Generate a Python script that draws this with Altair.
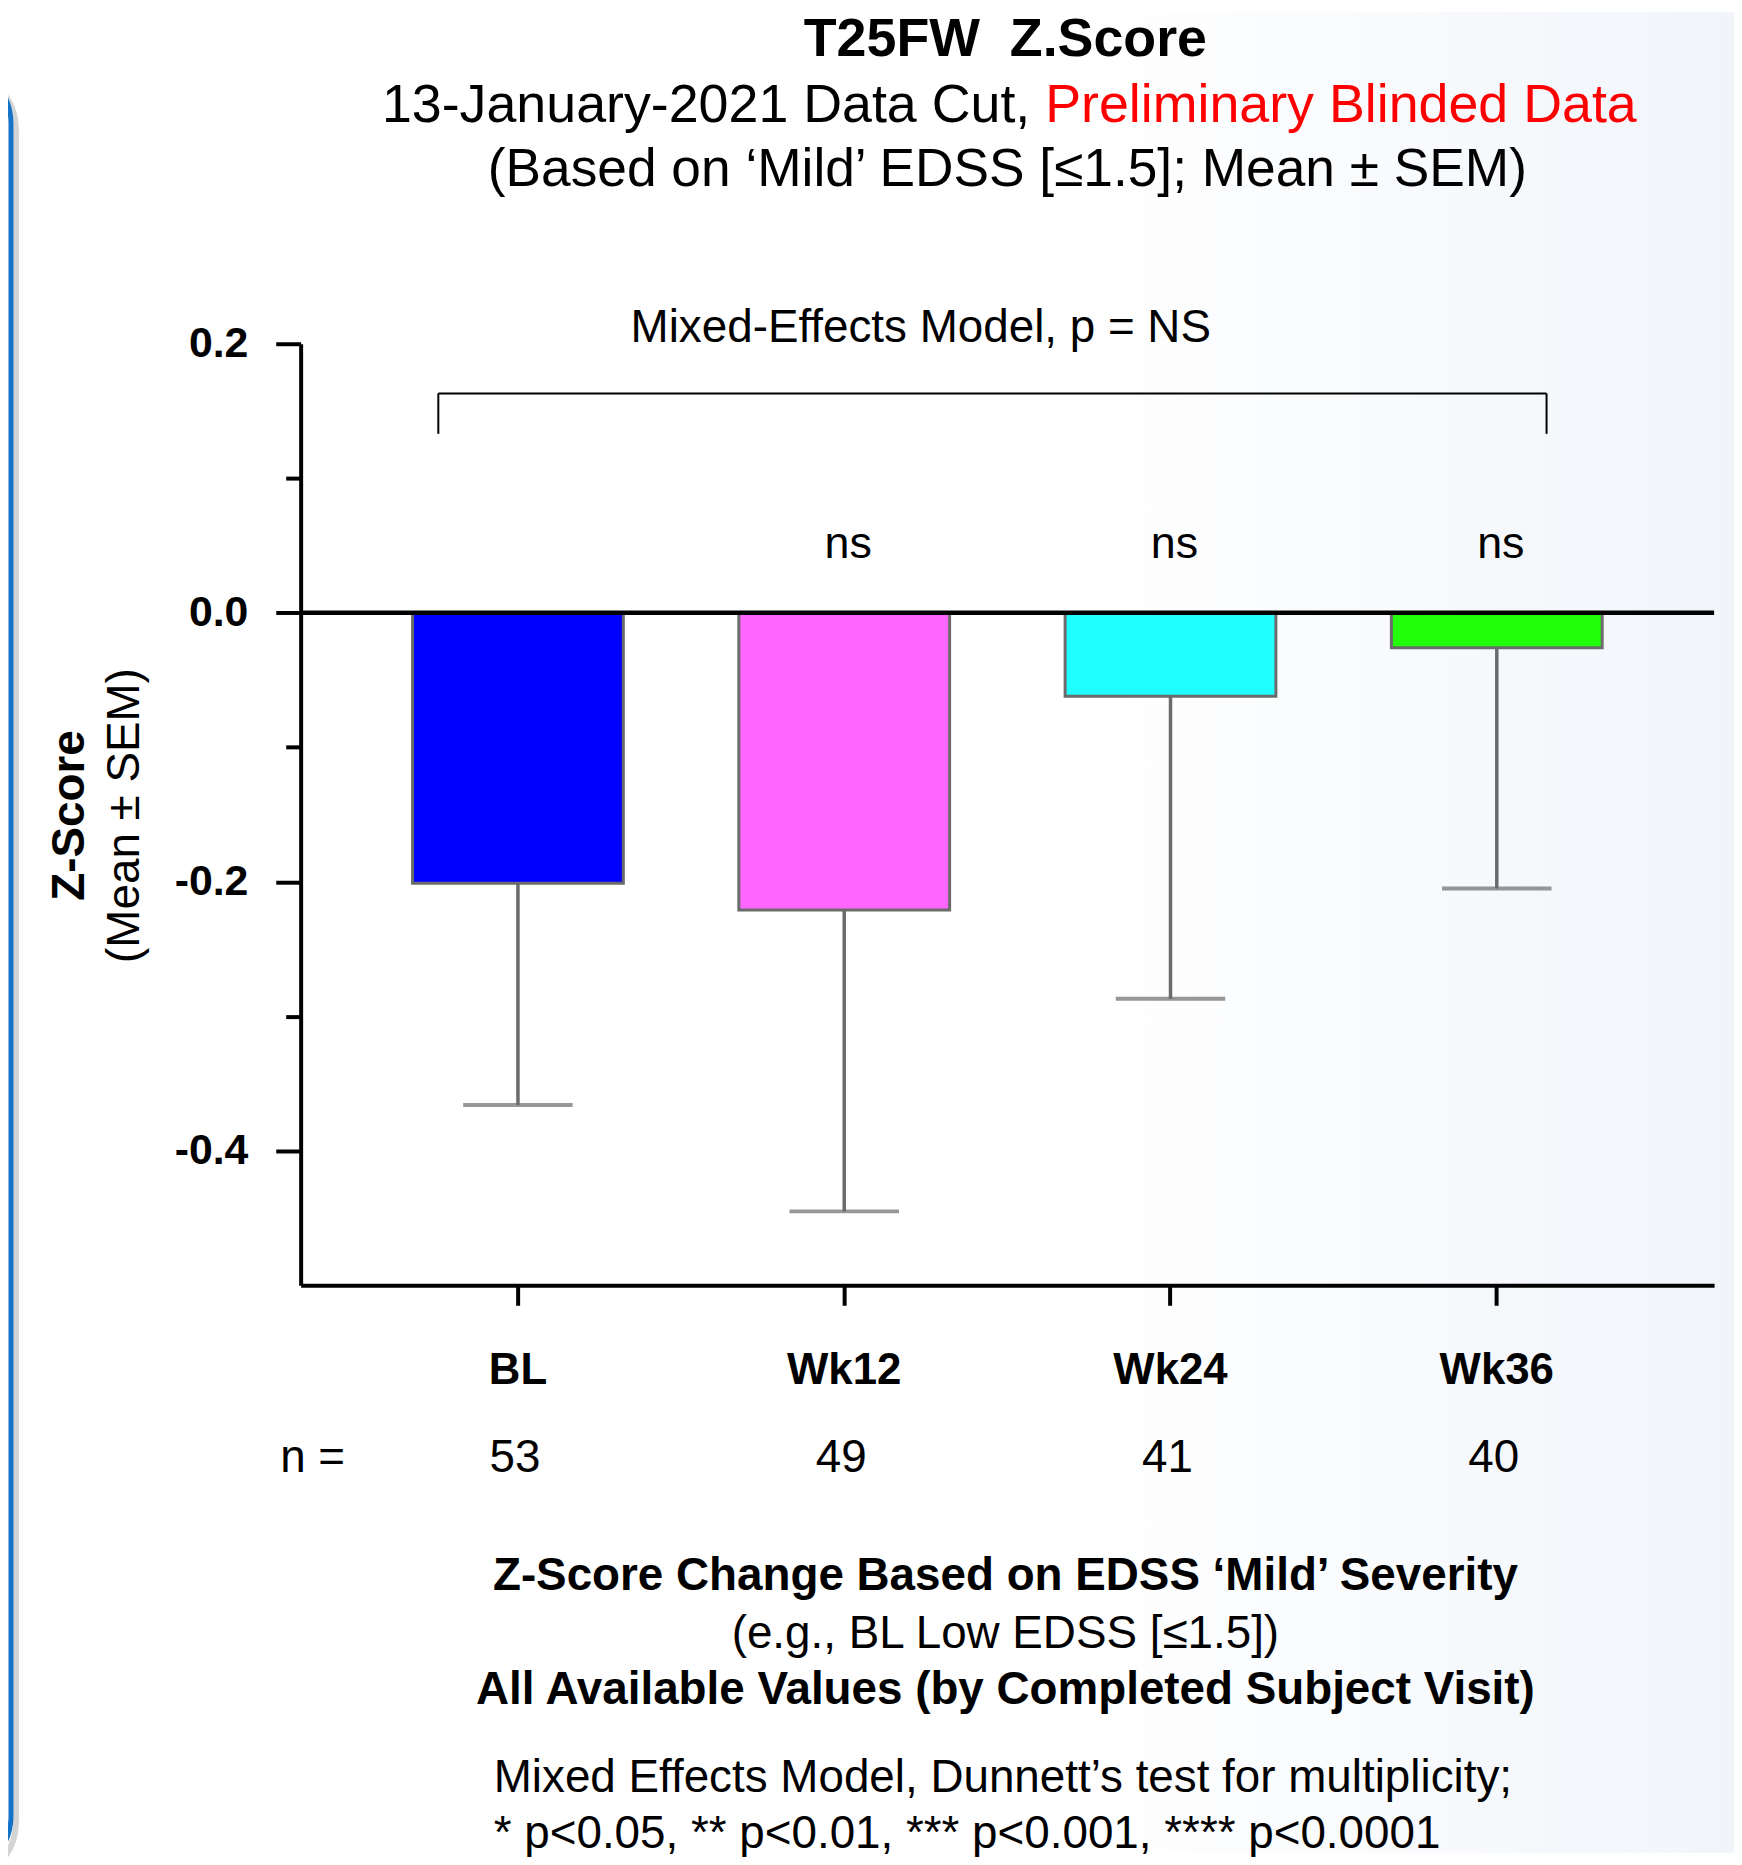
import altair as alt
import pandas as pd

# ---------------- data ----------------
categories = ["BL", "Wk12", "Wk24", "Wk36"]
means = [-0.201, -0.221, -0.062, -0.026]
err_low = [-0.366, -0.445, -0.287, -0.205]
n_values = ["53", "49", "41", "40"]
sig_labels = ["", "ns", "ns", "ns"]
bar_colors = ["#0000FF", "#FF66FF", "#1FFFFF", "#22FF0A"]
y_tick_values = [0.2, 0.1, 0.0, -0.1, -0.2, -0.3, -0.4]
y_domain = [-0.5, 0.2]
ns_level = 0.051
bracket_level = 0.163
bracket_leg_end = 0.133
bracket_ends = ["BL", "Wk36"]

title_line1 = ["T25FW\u00a0\u00a0Z.Score"]
title_line2_black = ["13-January-2021 Data Cut,"]
title_line2_red = ["Preliminary Blinded Data"]
title_line3 = ["(Based on \u2018Mild\u2019 EDSS [\u22641.5]; Mean \u00b1 SEM)"]
model_note = ["Mixed-Effects Model, p = NS"]
y_title_bold = ["Z-Score"]
y_title_regular = ["(Mean \u00b1 SEM)"]
n_prefix = ["n ="]
footer_bold1 = ["Z-Score Change Based on EDSS \u2018Mild\u2019 Severity"]
footer_regular1 = ["(e.g., BL Low EDSS [\u22641.5])"]
footer_bold2 = ["All Available Values (by Completed Subject Visit)"]
footnote_lines = ["Mixed Effects Model, Dunnett\u2019s test for multiplicity;",
                  "* p<0.05, ** p<0.01, *** p<0.001, **** p<0.0001"]

# ---------------- layout ----------------
W, H = 1420, 946
PL, PT, PR, PB = 294, 333, 20, 570
FONT = "Liberation Sans"
GRAY = "#6b6b6b"

df = pd.DataFrame({"cat": categories, "mean": means, "low": err_low,
                   "n": n_values, "sig": sig_labels})

xscale = alt.Scale(domain=categories, paddingInner=0.354, paddingOuter=0.343)
yscale = alt.Scale(domain=y_domain, nice=False, zero=False)

x_enc = alt.X("cat:N", scale=xscale, sort=categories,
              axis=alt.Axis(title=None, labelAngle=0, labelFont=FONT, labelFontSize=44,
                            labelFontWeight="bold", labelColor="black",
                            labelBaseline="middle", labelPadding=66,
                            tickSize=20, tickWidth=4, tickColor="black",
                            domainColor="black", domainWidth=4, grid=False, zindex=1))
y_axis = alt.Axis(title=None, values=y_tick_values, grid=False, zindex=1,
                  labelExpr="abs(round(datum.value*10)) % 2 == 0 ? (datum.value < -0.001 ? '-' : '') + format(abs(datum.value), '.1f') : ''",
                  labelFont=FONT, labelFontSize=43, labelFontWeight="bold", labelColor="black",
                  labelPadding=28,
                  tickSize={"condition": {"test": "abs(round(datum.value*10)) % 2 == 0", "value": 25}, "value": 15},
                  tickWidth=4, tickColor="black", domainColor="black", domainWidth=4)
y_enc = alt.Y("mean:Q", scale=yscale, axis=y_axis)

base = alt.Chart(df)


def text_layer(values, x, y, size, weight="normal", color="black", align="center", angle=0):
    d = pd.DataFrame({"t": values})
    return alt.Chart(d).mark_text(font=FONT, fontSize=size, fontWeight=weight, color=color,
                                  align=align, baseline="middle", angle=angle).encode(
        text="t:N", x=alt.value(x), y=alt.value(y))


background = alt.Chart(pd.DataFrame({"a": [0]})).mark_rect(
    fill={"gradient": "linear", "x1": 0, "x2": 1, "y1": 0, "y2": 0,
          "stops": [{"offset": 0, "color": "#ffffff"},
                    {"offset": 0.62, "color": "#ffffff"},
                    {"offset": 1, "color": "#f1f5fa"}]}
).encode(x=alt.value(-PL), x2=alt.value(W + PR), y=alt.value(-PT), y2=alt.value(H + PB))

frame_shadow = alt.Chart(pd.DataFrame({"a": [0]})).mark_rect(
    fill=None, stroke="#d4d4d4", strokeWidth=6, cornerRadius=60
).encode(x=alt.value(-PL - 200), x2=alt.value(-PL + 8), y=alt.value(-275), y2=alt.value(1545))
frame = alt.Chart(pd.DataFrame({"a": [0]})).mark_rect(
    fill=None, stroke="#1473c6", strokeWidth=5, cornerRadius=60
).encode(x=alt.value(-PL - 200), x2=alt.value(-PL + 3), y=alt.value(-281), y2=alt.value(1539))

bars = base.mark_bar(stroke=GRAY, strokeWidth=3).encode(
    x=x_enc, y=y_enc,
    color=alt.Color("cat:N", scale=alt.Scale(domain=categories, range=bar_colors), legend=None))

err_rule = base.mark_rule(color=GRAY, strokeWidth=3.5).encode(
    x=alt.X("cat:N", scale=xscale, sort=categories), y=alt.Y("mean:Q", scale=yscale), y2="low:Q")
err_cap = base.mark_tick(color=GRAY, thickness=4, size=110).encode(
    x=alt.X("cat:N", scale=xscale, sort=categories), y=alt.Y("low:Q", scale=yscale))

zero_line = alt.Chart(pd.DataFrame({"z": [0.0]})).mark_rule(color="black", strokeWidth=4.5).encode(
    y=alt.Y("z:Q", scale=yscale))

ns_text = base.mark_text(font=FONT, fontSize=45, color="black", baseline="middle", dx=4).encode(
    x=alt.X("cat:N", scale=xscale, sort=categories), y=alt.datum(ns_level), text="sig:N")

bracket_h = alt.Chart(pd.DataFrame({"a": [0]})).mark_rule(
    color="black", strokeWidth=2, xOffset=-80, x2Offset=50).encode(
    x=alt.datum(bracket_ends[0], scale=xscale), x2=alt.datum(bracket_ends[1]),
    y=alt.datum(bracket_level))
bracket_l = alt.Chart(pd.DataFrame({"a": [0]})).mark_rule(
    color="black", strokeWidth=2, xOffset=-80).encode(
    x=alt.datum(bracket_ends[0]), y=alt.datum(bracket_level), y2=alt.datum(bracket_leg_end))
bracket_r = alt.Chart(pd.DataFrame({"a": [0]})).mark_rule(
    color="black", strokeWidth=2, xOffset=50).encode(
    x=alt.datum(bracket_ends[1]), y=alt.datum(bracket_level), y2=alt.datum(bracket_leg_end))

n_text = base.mark_text(font=FONT, fontSize=46, color="black", baseline="middle", dx=-3).encode(
    x=alt.X("cat:N", scale=xscale, sort=categories), y=alt.value(1119), text="n:N")

texts = [
    text_layer(title_line1, 708, -305, 54, "bold"),
    text_layer(title_line2_black, 733, -239, 54, align="right"),
    text_layer(title_line2_red, 748, -239, 54, color="#ff0000", align="left"),
    text_layer(title_line3, 710, -174, 53.5),
    text_layer(model_note, 623, -16, 46),
    text_layer(y_title_bold, -232, 474, 46, "bold", angle=270),
    text_layer(y_title_regular, -176, 474, 46, angle=270),
    text_layer(n_prefix, 12, 1119, 46),
    text_layer(footer_bold1, 708, 1238, 46, "bold"),
    text_layer(footer_regular1, 708, 1296, 46),
    text_layer(footer_bold2, 708, 1353, 46, "bold"),
    text_layer(footnote_lines[:1], 194, 1441, 46, align="left"),
    text_layer(footnote_lines[1:], 194, 1497, 46, align="left"),
]

chart = alt.layer(
    background, frame_shadow, frame, bars, err_rule, err_cap, zero_line, ns_text,
    bracket_h, bracket_l, bracket_r, n_text, *texts
).properties(
    width=W, height=H,
    padding={"left": PL, "top": PT, "right": PR, "bottom": PB},
    autosize=alt.AutoSizeParams(type="none"),
).configure_view(stroke=None).configure(background="white")

chart.save("out.html", embed_options={"renderer": "svg", "actions": False})
